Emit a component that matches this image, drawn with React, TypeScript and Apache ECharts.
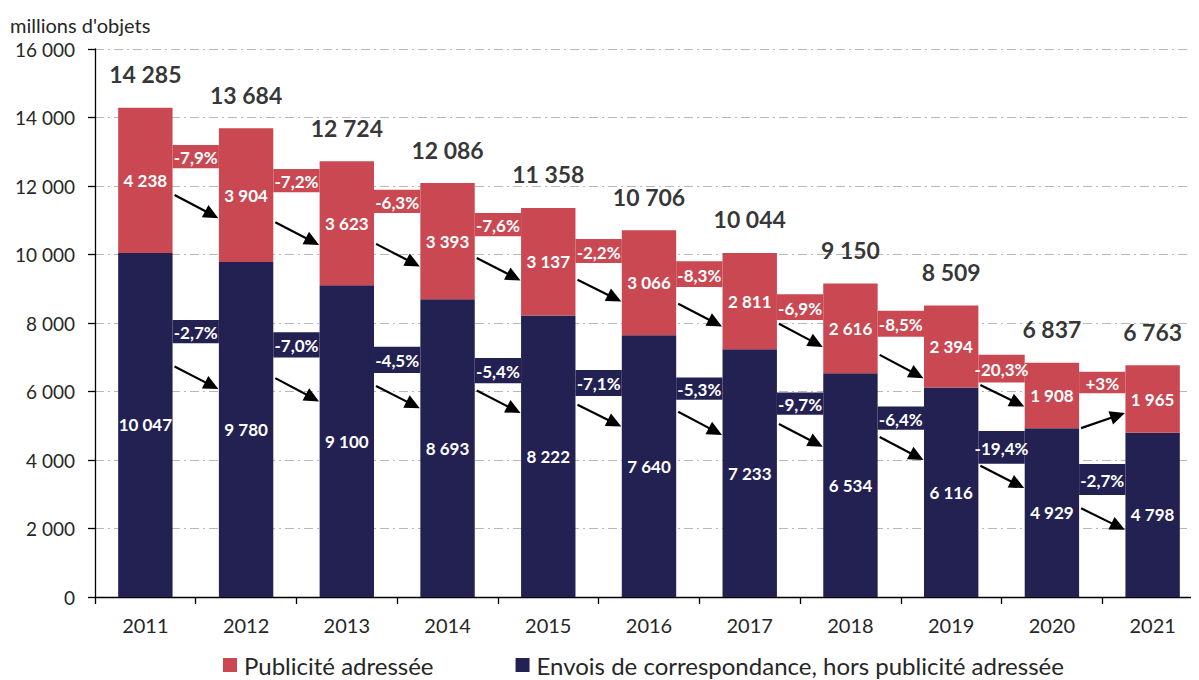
import React, { useEffect, useRef } from "react";
import * as echarts from "echarts";

const years = ["2011", "2012", "2013", "2014", "2015", "2016", "2017", "2018", "2019", "2020", "2021"];
const correspondance = [10047, 9780, 9100, 8693, 8222, 7640, 7233, 6534, 6116, 4929, 4798];
const publicite = [4238, 3904, 3623, 3393, 3137, 3066, 2811, 2616, 2394, 1908, 1965];
const totals = [14285, 13684, 12724, 12086, 11358, 10706, 10044, 9150, 8509, 6837, 6763];

const pubPct = ["-7,9%", "-7,2%", "-6,3%", "-7,6%", "-2,2%", "-8,3%", "-6,9%", "-8,5%", "-20,3%", "+3%"];
const corPct = ["-2,7%", "-7,0%", "-4,5%", "-5,4%", "-7,1%", "-5,3%", "-9,7%", "-6,4%", "-19,4%", "-2,7%"];

// boxes between years (value-axis extents)
const pubBoxTop = [13200, 12500, 11890, 11210, 10450, 9800, 8840, 8360, 7070, 6580];
const pubBoxBottom = [12520, 11820, 11210, 10530, 9750, 9050, 8090, 7600, 6260, 5950];
const corBoxTop = [8090, 7730, 7310, 6980, 6630, 6410, 5970, 5560, 4850, 3880];
const corBoxBottom = [7410, 6990, 6540, 6240, 5870, 5760, 5320, 4880, 3890, 2980];

// arrows between years (start / end values)
const pubArrowFrom = [11740, 10940, 10310, 9900, 9260, 8560, 7980, 7070, 6190, 4930];
const pubArrowTo = [11060, 10280, 9650, 9240, 8630, 7900, 7300, 6390, 5560, 5370];
const corArrowFrom = [6730, 6390, 6160, 6030, 5610, 5410, 5050, 4670, 3830, 2590];
const corArrowTo = [6070, 5710, 5510, 5370, 4980, 4730, 4390, 4000, 3180, 1960];

const RED = "#C94852";
const NAVY = "#232152";
const FONT = "Lato";

const fmt = (n: number) => String(n).replace(/\B(?=(\d{3})+(?!\d))/g, " ");

export default function App() {
  const ref = useRef<HTMLDivElement>(null);
  useEffect(() => {
    if (!ref.current) return;
    const chart = echarts.init(ref.current, null, { renderer: "svg" });

    const boxData = (tops: number[], bottoms: number[]) =>
      tops.map((t, i) => [i + 1, bottoms[i], t]);
    const arrowData = (from: number[], to: number[]) =>
      from.map((f, i) => [i + 0.79, f, i + 1.225, to[i]]);

    const boxSeries = (name: string, data: number[][], color: string, labels: string[]) => ({
      type: "custom",
      name,
      xAxisIndex: 1,
      yAxisIndex: 0,
      data,
      encode: { x: 0, y: [1, 2] },
      z: 3,
      renderItem: (params: any, api: any) => {
        const x = api.value(0);
        const lo = api.value(1);
        const hi = api.value(2);
        const pTop = api.coord([x, hi]);
        const pBot = api.coord([x, lo]);
        const w = api.size([0.46, 0])[0];
        return {
          type: "group",
          children: [
            {
              type: "rect",
              shape: { x: pTop[0] - w / 2, y: pTop[1], width: w, height: pBot[1] - pTop[1] },
              style: { fill: color },
            },
            {
              type: "text",
              style: {
                text: labels[params.dataIndex],
                x: pTop[0],
                y: (pTop[1] + pBot[1]) / 2 + 1,
                align: "center",
                verticalAlign: "middle",
                fill: "#ffffff",
                fontSize: 17,
                fontWeight: "bold",
                fontFamily: FONT,
              },
            },
          ],
        };
      },
    });

    const arrowSeries = (name: string, data: number[][]) => ({
      type: "custom",
      name,
      xAxisIndex: 1,
      yAxisIndex: 0,
      data,
      encode: { x: [0, 2], y: [1, 3] },
      z: 4,
      renderItem: (params: any, api: any) => {
        const p1 = api.coord([api.value(0), api.value(1)]);
        const p2 = api.coord([api.value(2), api.value(3)]);
        const dx = p2[0] - p1[0];
        const dy = p2[1] - p1[1];
        const len = Math.sqrt(dx * dx + dy * dy);
        const ux = dx / len;
        const uy = dy / len;
        const hl = 15;
        const hw = 7;
        const bx = p2[0] - ux * hl;
        const by = p2[1] - uy * hl;
        return {
          type: "group",
          children: [
            {
              type: "line",
              shape: { x1: p1[0], y1: p1[1], x2: bx + ux * 2, y2: by + uy * 2 },
              style: { stroke: "#000", lineWidth: 2.2 },
            },
            {
              type: "polygon",
              shape: {
                points: [
                  [p2[0], p2[1]],
                  [bx - uy * hw, by + ux * hw],
                  [bx + uy * hw, by - ux * hw],
                ],
              },
              style: { fill: "#000" },
            },
          ],
        };
      },
    });

    const insideLabel = {
      show: true,
      position: "inside",
      color: "#ffffff",
      fontSize: 17,
      fontWeight: "bold",
      fontFamily: FONT,
      formatter: (p: any) => fmt(p.value),
    };

    chart.setOption({
      animation: false,
      textStyle: { fontFamily: FONT },
      grid: { left: 87, top: 41, width: 1108, height: 548, containLabel: false, outerBoundsMode: "none" },
      legend: {
        data: ["Publicité adressée", "Envois de correspondance, hors publicité adressée"],
        left: 210,
        top: 640,
        icon: "rect",
        itemWidth: 14,
        itemHeight: 14,
        itemGap: 82,
        textStyle: { fontSize: 24, color: "#262626", fontFamily: FONT, padding: [0, 0, 0, 2] },
      },
      xAxis: [
        {
          type: "category",
          data: years,
          boundaryGap: true,
          axisLine: { lineStyle: { color: "#000", width: 1.3 } },
          axisTick: { show: true, interval: 0, length: 7, lineStyle: { color: "#000", width: 1.3 } },
          axisLabel: { fontSize: 20, color: "#262626", margin: 18, fontFamily: FONT },
          splitLine: { show: false },
        },
        { type: "value", min: 0, max: 11, show: false },
      ],
      yAxis: {
        type: "value",
        min: 0,
        max: 16000,
        interval: 2000,
        name: "millions d'objets",
        nameLocation: "end",
        nameGap: 14,
        nameTextStyle: { fontSize: 20, color: "#262626", align: "left", padding: [0, 0, 0, -85], fontFamily: FONT },
        axisLine: { show: true, lineStyle: { color: "#000", width: 1.3 } },
        axisTick: { show: true, length: 7, lineStyle: { color: "#000", width: 1.3 } },
        axisLabel: { fontSize: 19, color: "#262626", margin: 20, fontFamily: FONT, formatter: (v: number) => fmt(v) },
        splitLine: { show: true, lineStyle: { color: "#b8b8b8", width: 1.2, type: [9, 4, 2, 4] } },
      },
      series: [
        {
          name: "Envois de correspondance, hors publicité adressée",
          type: "bar",
          stack: "total",
          barWidth: "54%",
          data: correspondance,
          itemStyle: { color: NAVY },
          label: insideLabel,
        },
        {
          name: "Publicité adressée",
          type: "bar",
          stack: "total",
          barWidth: "54%",
          data: publicite,
          itemStyle: { color: RED },
          label: insideLabel,
        },
        {
          name: "totaux",
          type: "scatter",
          data: totals,
          symbolSize: 0,
          z: 5,
          label: {
            show: true,
            position: "top",
            distance: 22,
            color: "#000",
            fontSize: 23,
            fontWeight: "bold",
            fontFamily: FONT,
            formatter: (p: any) => fmt(p.value),
          },
        },
        boxSeries("boxPub", boxData(pubBoxTop, pubBoxBottom), RED, pubPct),
        boxSeries("boxCor", boxData(corBoxTop, corBoxBottom), NAVY, corPct),
        arrowSeries("arrowPub", arrowData(pubArrowFrom, pubArrowTo)),
        arrowSeries("arrowCor", arrowData(corArrowFrom, corArrowTo)),
      ],
    });
    return () => chart.dispose();
  }, []);
  return <div ref={ref} style={{ width: 1183, height: 672 }} />;
}
